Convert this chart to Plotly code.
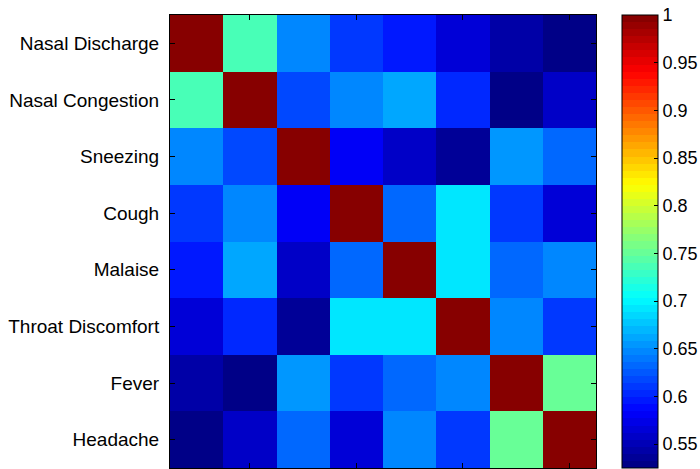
import plotly.graph_objects as go
import numpy as np

symptoms = ["Nasal Discharge", "Nasal Congestion", "Sneezing", "Cough",
            "Malaise", "Throat Discomfort", "Fever", "Headache"]
col_index = [1, 2, 3, 4, 5, 6, 7, 8]

nasal_discharge   = [1.000, 0.740, 0.649, 0.614, 0.592, 0.563, 0.545, 0.525]
nasal_congestion  = [0.740, 1.000, 0.621, 0.644, 0.666, 0.603, 0.528, 0.555]
sneezing          = [0.649, 0.621, 1.000, 0.584, 0.558, 0.535, 0.654, 0.631]
cough             = [0.614, 0.644, 0.584, 1.000, 0.636, 0.689, 0.614, 0.568]
malaise           = [0.592, 0.666, 0.558, 0.636, 1.000, 0.689, 0.636, 0.644]
throat_discomfort = [0.563, 0.603, 0.535, 0.689, 0.689, 1.000, 0.644, 0.614]
fever             = [0.545, 0.528, 0.654, 0.614, 0.636, 0.644, 1.000, 0.754]
headache          = [0.525, 0.555, 0.631, 0.568, 0.644, 0.614, 0.754, 1.000]

z = [nasal_discharge, nasal_congestion, sneezing, cough,
     malaise, throat_discomfort, fever, headache]

cbar_vals = [0.55, 0.6, 0.65, 0.7, 0.75, 0.8, 0.85, 0.9, 0.95, 1.0]
cbar_text = ["0.55", "0.6", "0.65", "0.7", "0.75", "0.8", "0.85", "0.9", "0.95", "1"]

ZMIN, ZMAX = 0.525, 1.0

# MATLAB-style jet, 64 discrete levels
def jet(t):
    r = np.clip(min(4 * t - 1.5, -4 * t + 4.5), 0, 1)
    g = np.clip(min(4 * t - 0.5, -4 * t + 3.5), 0, 1)
    b = np.clip(min(4 * t + 0.5, -4 * t + 2.5), 0, 1)
    return f"rgb({int(round(r*255))},{int(round(g*255))},{int(round(b*255))})"

N = 64
colorscale = []
for i in range(N):
    c = jet((i + 0.5) / N)
    colorscale.append([i / N, c])
    colorscale.append([(i + 1) / N, c])

FONT = "Liberation Sans, Arial, sans-serif"

W, H = 700, 469
L, T = 170, 15
PLOT_R = 596
PLOT_W = PLOT_R - L

fig = go.Figure(go.Heatmap(
    z=z, x=col_index, y=symptoms,
    zmin=ZMIN, zmax=ZMAX, colorscale=colorscale,
    colorbar=dict(
        x=(622 - L) / PLOT_W, xanchor="left", xpad=0,
        y=1, yanchor="top", ypad=0, len=1.0, lenmode="fraction",
        thickness=36, outlinecolor="black", outlinewidth=1,
        tickmode="array", tickvals=cbar_vals, ticktext=cbar_text,
        ticks="inside", ticklen=4, tickcolor="black",
        ticklabeloverflow="allow",
        tickfont=dict(family=FONT, size=18, color="black"),
    ),
))

fig.update_layout(
    width=W, height=H,
    margin=dict(l=L, r=W - PLOT_R, t=T, b=1, pad=0, autoexpand=False),
    paper_bgcolor="white", plot_bgcolor="white",
    font=dict(family=FONT, size=19, color="black"),
    xaxis=dict(
        tickmode="array", tickvals=[2, 4, 6, 8], showticklabels=False,
        ticks="inside", ticklen=5, tickcolor="black",
        showline=True, linecolor="black", linewidth=1, mirror="ticks",
        showgrid=False, zeroline=False, range=[0.5, 8.5],
    ),
    yaxis=dict(
        autorange="reversed", ticks="inside", ticklen=5, tickcolor="black",
        showline=True, linecolor="black", linewidth=1, mirror="ticks",
        showgrid=False, zeroline=False, ticklabelstandoff=6,
        tickfont=dict(family=FONT, size=19, color="black"),
    ),
)

fig.write_html(
    "out.html",
    config={"displayModeBar": False},
    post_script="document.body.style.margin='0';document.body.style.overflow='hidden';",
)
